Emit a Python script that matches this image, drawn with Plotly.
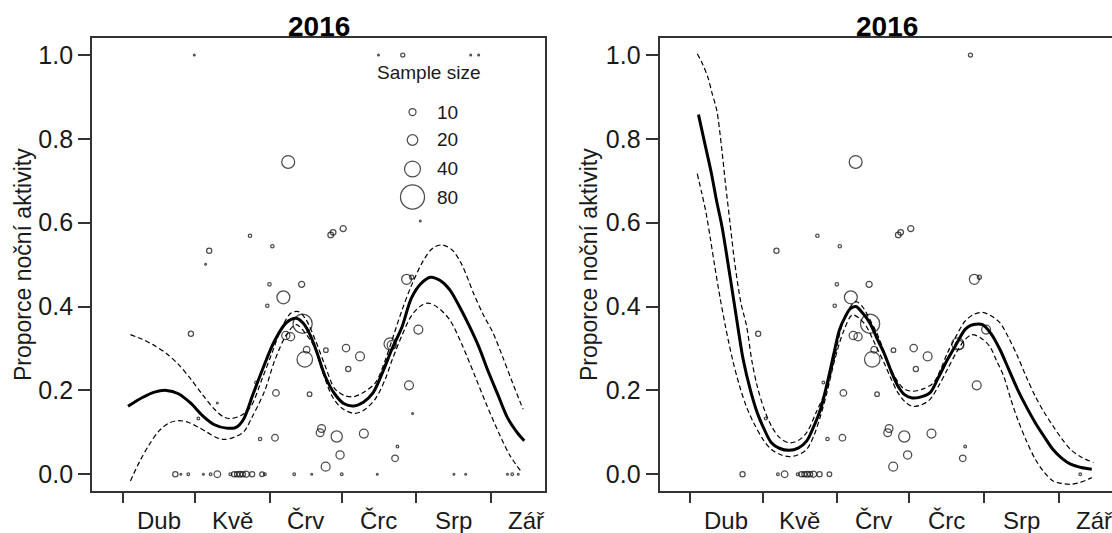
import plotly.graph_objects as go

# ---------------- data ----------------
month_starts = [92, 122, 153, 183, 214, 245, 275]          # day of year 2016 (1st of Apr..Oct)
month_labels = ["Dub", "Kvě", "Črv", "Črc", "Srp", "Zář"]
y_ticks = [0.0, 0.2, 0.4, 0.6, 0.8, 1.0]
y_tick_text = ["0.0", "0.2", "0.4", "0.6", "0.8", "1.0"]
legend_sizes = [10, 20, 40, 80]
panel_title = "2016"
y_title = "Proporce noční aktivity"
legend_title = "Sample size"

obs_day = [121.6, 198.3, 208.4, 236.7, 240.0, 160.7, 215.7, 183.6, 178.4, 179.4,
           144.8, 154.1, 127.8, 126.3, 210.0, 212.1, 152.9, 166.3, 158.7, 152.0,
           166.7, 214.9, 120.2, 159.7, 161.7, 203.1, 203.8, 184.8, 168.4, 176.4,
           190.6, 167.6, 185.7, 147.3, 211.0, 155.6, 169.6, 131.2, 212.5, 123.3,
           174.6, 174.0, 192.2, 180.9, 155.2, 149.0, 206.2, 182.3, 205.2, 176.3,
           113.7, 116.0, 119.1, 125.4, 128.4, 131.2, 136.6, 138.2, 139.4, 140.6,
           141.8, 143.2, 145.7, 149.8, 151.0, 163.2, 170.5, 183.0, 197.8, 229.7,
           234.6, 252.0, 254.0, 256.5]
obs_prop = [1.0, 1.0, 1.0, 1.0, 1.0, 0.745, 0.604, 0.586, 0.571, 0.577,
            0.569, 0.544, 0.533, 0.501, 0.465, 0.470, 0.453, 0.453, 0.422, 0.402,
            0.359, 0.345, 0.335, 0.331, 0.328, 0.311, 0.308, 0.301, 0.297, 0.296,
            0.281, 0.274, 0.251, 0.219, 0.212, 0.194, 0.191, 0.170, 0.145, 0.133,
            0.109, 0.099, 0.097, 0.090, 0.087, 0.084, 0.066, 0.046, 0.038, 0.018,
            0.0, 0.0, 0.0, 0.0, 0.0, 0.0, 0.0, 0.0, 0.0, 0.0,
            0.0, 0.0, 0.0, 0.0, 0.0, 0.0, 0.0, 0.0, 0.0, 0.0,
            0.0, 0.0, 0.0, 0.0]
obs_n = [1, 1, 4, 1, 1, 28, 1, 8, 7, 7,
         3, 3, 6, 1, 18, 4, 3, 8, 28, 3,
         55, 15, 6, 13, 13, 25, 15, 11, 9, 5,
         15, 38, 6, 2, 15, 9, 5, 1, 1, 2,
         12, 12, 15, 22, 9, 3, 2, 13, 9, 15,
         6, 1, 2, 1, 2, 9, 2, 6, 6, 7,
         6, 8, 6, 5, 2, 2, 1, 2, 1, 1,
         1, 1, 2, 1]
obs_in_right = [0, 0, 1, 0, 0, 1, 0, 1, 1, 1,
                1, 1, 1, 0, 1, 1, 1, 1, 1, 1,
                1, 1, 1, 1, 1, 1, 1, 1, 1, 1,
                1, 1, 1, 1, 1, 1, 1, 0, 0, 1,
                1, 1, 1, 1, 1, 1, 1, 1, 1, 1,
                1, 0, 0, 0, 1, 1, 1, 1, 1, 1,
                1, 1, 1, 1, 0, 0, 0, 0, 0, 0,
                0, 0, 1, 0]

left_fit_day = [94, 100, 105, 110, 115, 120, 125, 130, 135, 139, 142, 146, 150, 155, 160,
                164, 167, 170, 173, 176, 180, 184, 188, 192, 196, 200, 204, 208, 212, 216,
                220, 224, 228, 232, 236, 240, 244, 248, 252, 256, 259]
left_fit = [0.162, 0.183, 0.196, 0.200, 0.192, 0.170, 0.140, 0.118, 0.110, 0.112, 0.130, 0.190,
            0.250, 0.318, 0.362, 0.372, 0.360, 0.330, 0.285, 0.235, 0.192, 0.168, 0.163, 0.172,
            0.194, 0.243, 0.300, 0.350, 0.420, 0.455, 0.470, 0.462, 0.440, 0.400, 0.355, 0.305,
            0.245, 0.190, 0.135, 0.100, 0.080]
left_upper_day = [95, 100, 105, 110, 115, 120, 125, 130, 134, 137, 141, 145, 150, 154, 158,
                  162, 165, 168, 172, 176, 180, 184, 188, 192, 197, 201, 204, 208, 212, 217,
                  221, 225, 229, 233, 238, 242, 246, 250, 254, 258.5]
left_upper = [0.333, 0.322, 0.307, 0.288, 0.262, 0.228, 0.190, 0.155, 0.136, 0.133, 0.140, 0.160,
              0.230, 0.290, 0.350, 0.385, 0.388, 0.370, 0.320, 0.260, 0.205, 0.188, 0.185, 0.195,
              0.218, 0.270, 0.321, 0.390, 0.450, 0.510, 0.540, 0.547, 0.535, 0.500, 0.430, 0.380,
              0.337, 0.280, 0.220, 0.155]
left_lower_day = [95, 99, 103, 107, 111, 115, 119, 123, 127, 131, 134, 138, 142, 146, 151,
                  155, 160, 164, 168, 171.5, 175, 179, 183, 188, 192, 197, 201, 204, 208, 212,
                  216, 219, 223, 228, 233, 238.5, 243, 249, 253, 258]
left_lower = [-0.016, 0.032, 0.072, 0.104, 0.122, 0.128, 0.124, 0.113, 0.100, 0.087, 0.083, 0.088,
              0.100, 0.140, 0.200, 0.270, 0.333, 0.357, 0.335, 0.305, 0.245, 0.186, 0.158, 0.145,
              0.152, 0.180, 0.225, 0.273, 0.330, 0.378, 0.402, 0.408, 0.398, 0.368, 0.310, 0.234,
              0.170, 0.091, 0.045, 0.004]

right_fit_day = [95.4, 98, 100.8, 103, 105.2, 108.1, 111, 114, 117, 119.8, 122.5, 125.7, 129,
                 133, 137, 140.3, 143, 146.1, 149, 152, 154, 156.4, 158.5, 160.8, 163.5, 166.6,
                 169.5, 172.5, 175.5, 178.3, 181, 184.2, 187.5, 191.5, 195, 198.8, 202.5, 206.1,
                 208.5, 210.5, 213.4, 217, 220.7, 224.3, 228, 231.7, 235.3, 239, 242.7, 246.4,
                 250, 254.4, 258.8]
right_fit = [0.858, 0.790, 0.717, 0.650, 0.590, 0.487, 0.380, 0.273, 0.200, 0.147, 0.110, 0.075,
             0.062, 0.057, 0.063, 0.079, 0.110, 0.155, 0.220, 0.297, 0.345, 0.376, 0.395, 0.400,
             0.385, 0.361, 0.325, 0.289, 0.245, 0.210, 0.190, 0.182, 0.184, 0.194, 0.230, 0.273,
             0.310, 0.345, 0.355, 0.358, 0.357, 0.335, 0.297, 0.250, 0.202, 0.160, 0.123, 0.090,
             0.059, 0.038, 0.024, 0.016, 0.012]
right_upper_day = [94.9, 97, 99.3, 101, 103, 105, 106.6, 108.5, 110.3, 113, 115.4, 117.6, 119.8,
                   122.7, 125.7, 129, 133, 136.7, 140.3, 144.5, 149, 152, 154.9, 158, 160.8, 163.5,
                   166.5, 169.5, 173, 176.8, 180.5, 184.2, 188.5, 193, 196, 198.8, 202.5, 206.1,
                   209.7, 213.4, 217, 220.7, 224.3, 228, 231.6, 235.3, 239, 242.7, 246.3, 250,
                   254.7, 259.5]
right_upper = [1.003, 0.980, 0.947, 0.910, 0.868, 0.780, 0.694, 0.600, 0.511, 0.410, 0.353, 0.270,
               0.210, 0.155, 0.115, 0.088, 0.075, 0.080, 0.099, 0.150, 0.210, 0.280, 0.353, 0.395,
               0.412, 0.400, 0.370, 0.337, 0.285, 0.234, 0.205, 0.198, 0.203, 0.218, 0.250, 0.289,
               0.330, 0.365, 0.381, 0.386, 0.378, 0.361, 0.325, 0.281, 0.232, 0.186, 0.148, 0.115,
               0.085, 0.059, 0.040, 0.028]
right_lower_day = [94.9, 96.8, 98.6, 100.4, 102.2, 104.4, 106.6, 109.5, 112.5, 115.4, 118.3, 122,
                   125.7, 129.4, 133, 136.6, 140.3, 143.2, 146.1, 149, 152, 155.6, 159.3, 162.2,
                   165.1, 168.8, 172.5, 175.4, 178.3, 181.2, 184.2, 187.8, 191.5, 195.1, 198.8,
                   202.5, 206.1, 209, 212.7, 216.4, 219.3, 222.2, 225.1, 228, 231.6, 235.3, 239,
                   242.7, 246.4, 250, 253.7, 257.3, 258.8]
right_lower = [0.717, 0.670, 0.622, 0.560, 0.495, 0.420, 0.353, 0.275, 0.210, 0.160, 0.123, 0.085,
               0.059, 0.047, 0.042, 0.046, 0.059, 0.090, 0.139, 0.200, 0.273, 0.340, 0.380, 0.372,
               0.353, 0.310, 0.266, 0.228, 0.194, 0.173, 0.162, 0.165, 0.178, 0.210, 0.250, 0.290,
               0.321, 0.333, 0.325, 0.305, 0.270, 0.234, 0.180, 0.131, 0.080, 0.036, 0.005, -0.016,
               -0.022, -0.024, -0.020, -0.012, -0.008]

# ---------------- layout constants ----------------
W, H = 1112, 533
FONT = "Liberation Sans, Arial, sans-serif"
TXT = "#1a1a1a"
FRAME = "#333333"
Y_DOM = [(533 - 491) / H, (533 - 38.3) / H]
LEFT_DOM = [92.1 / W, 545.4 / W]
RIGHT_DOM = [659.6 / W, 1.0]
X_RANGE_L = [79.05, 267.8]
X_RANGE_R = [79.25, 267.2]
Y_RANGE = [-0.04, 1.04]


def diam(n):
    return 1.787 * n ** 0.593


fig = go.Figure()


def add_panel(xa, ya, days, props, ns, fit_d, fit, up_d, up, lo_d, lo):
    fig.add_trace(go.Scatter(
        x=days, y=props, mode="markers", xaxis=xa, yaxis=ya, showlegend=False,
        marker=dict(symbol="circle-open", size=[max(diam(n), 1.8) for n in ns],
                    color="black", line=dict(width=1.25, color="black")),
        cliponaxis=False))
    for d, v in ((up_d, up), (lo_d, lo)):
        fig.add_trace(go.Scatter(
            x=d, y=v, mode="lines", xaxis=xa, yaxis=ya, showlegend=False,
            line=dict(color="black", width=1.2, dash="5px,3px", shape="spline", smoothing=0.9)))
    fig.add_trace(go.Scatter(
        x=fit_d, y=fit, mode="lines", xaxis=xa, yaxis=ya, showlegend=False,
        line=dict(color="black", width=3, shape="spline", smoothing=0.9)))


add_panel("x", "y", obs_day, obs_prop, obs_n,
          left_fit_day, left_fit, left_upper_day, left_upper, left_lower_day, left_lower)
r_idx = [i for i, f in enumerate(obs_in_right) if f]
add_panel("x2", "y2", [obs_day[i] for i in r_idx], [obs_prop[i] for i in r_idx],
          [obs_n[i] for i in r_idx],
          right_fit_day, right_fit, right_upper_day, right_upper, right_lower_day, right_lower)

# legend bubbles on a pixel-space overlay axis
LEG_X = 412.5
LEG_ROWS = [112, 140, 169, 197]
fig.add_trace(go.Scatter(
    x=[LEG_X] * len(legend_sizes), y=LEG_ROWS, mode="markers", xaxis="x3", yaxis="y3",
    showlegend=False,
    marker=dict(symbol="circle-open", size=[diam(n) for n in legend_sizes],
                color="black", line=dict(width=1.25, color="black"))))

xcommon = dict(tickvals=month_starts[:-1], ticktext=[""] * 6, ticks="outside", ticklen=10,
               tickwidth=1.5, tickcolor=FRAME, showline=True, linecolor=FRAME, linewidth=2,
               mirror=True, showgrid=False, zeroline=False, fixedrange=True)
ycommon = dict(domain=Y_DOM, range=Y_RANGE, tickvals=y_ticks, ticktext=y_tick_text,
               ticks="outside", ticklen=12, tickwidth=1.5, tickcolor=FRAME, showline=True,
               linecolor=FRAME, linewidth=2, showgrid=False, zeroline=False,
               tickfont=dict(family=FONT, size=25, color=TXT))

fig.update_layout(
    width=W, height=H, margin=dict(l=0, r=0, t=0, b=0),
    paper_bgcolor="white", plot_bgcolor="rgba(0,0,0,0)",
    font=dict(family=FONT, color=TXT),
    xaxis=dict(domain=LEFT_DOM, range=X_RANGE_L, anchor="y", **xcommon),
    yaxis=dict(anchor="x", mirror=True, **ycommon),
    xaxis2=dict(domain=RIGHT_DOM, range=X_RANGE_R, anchor="y2", **xcommon),
    yaxis2=dict(anchor="x2", mirror=False, **ycommon),
    xaxis3=dict(domain=[0, 1], range=[0, W], visible=False, anchor="y3"),
    yaxis3=dict(domain=[0, 1], range=[H, 0], visible=False, anchor="x3"),
)

ann = []
# panel titles
for dom in (LEFT_DOM, [659.6 / W, 1113.4 / W]):
    ann.append(dict(text="<b>%s</b>" % panel_title, xref="paper", yref="paper",
                    x=(dom[0] + dom[1]) / 2, y=(H - 27) / H, xanchor="center", yanchor="middle",
                    showarrow=False, font=dict(family=FONT, size=28, color="black")))
# y-axis titles
for xp in (23, 589):
    ann.append(dict(text=y_title, xref="paper", yref="paper", x=xp / W, y=(H - 265) / H,
                    textangle=-90, xanchor="center", yanchor="middle", showarrow=False,
                    font=dict(family=FONT, size=23, color=TXT)))
# month labels centred between month starts
for xr in ("x", "x2"):
    for i, lab in enumerate(month_labels):
        mid = (month_starts[i] + month_starts[i + 1]) / 2
        ann.append(dict(text=lab, xref=xr, yref="paper", x=mid, y=(H - 520.5) / H,
                        xanchor="center", yanchor="middle", showarrow=False,
                        font=dict(family=FONT, size=24, color=TXT)))
# size legend text
ann.append(dict(text=legend_title, xref="paper", yref="paper", x=429 / W, y=(H - 72) / H,
                xanchor="center", yanchor="middle", showarrow=False,
                font=dict(family=FONT, size=19, color=TXT)))
for s, yy in zip(legend_sizes, LEG_ROWS):
    ann.append(dict(text=str(s), xref="paper", yref="paper", x=435 / W, y=(H - yy) / H,
                    xanchor="left", yanchor="middle", showarrow=False,
                    font=dict(family=FONT, size=19, color=TXT)))
fig.update_layout(annotations=ann)

fig.write_html("out.html")
